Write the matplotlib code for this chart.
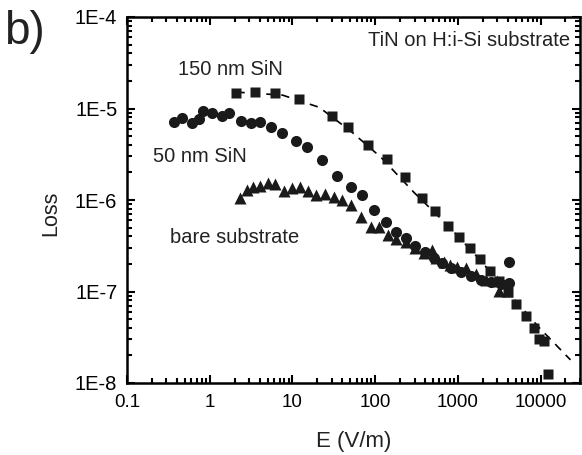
import matplotlib
matplotlib.use("Agg")
import matplotlib.pyplot as plt
from matplotlib.ticker import LogLocator, FixedLocator, FixedFormatter, NullFormatter

plt.rcParams['font.family'] = ['Liberation Sans', 'DejaVu Sans']

# --- data ---
# 150 nm SiN (squares)
sin150_E = [2.1, 3.5, 6.1, 12.1, 30.3, 47, 82, 140, 230, 368, 528, 758, 1028, 1396,
            1841, 2430, 3120, 4000, 5000, 6600, 8240, 9460, 10870, 12480]
sin150_L = [1.47e-5, 1.51e-5, 1.47e-5, 1.26e-5, 8.2e-6, 6.2e-6, 3.96e-6, 2.78e-6,
            1.77e-6, 1.06e-6, 7.5e-7, 5.26e-7, 3.98e-7, 3.0e-7, 2.29e-7, 1.69e-7,
            1.31e-7, 9.9e-8, 7.3e-8, 5.4e-8, 4.0e-8, 3.03e-8, 2.88e-8, 1.26e-8]

# dashed fit through the 150 nm SiN data
fit_E = [2.1, 7.6, 21.1, 51.4, 118, 295, 758, 1790, 4110, 9460, 23000]
fit_L = [1.51e-5, 1.40e-5, 1.03e-5, 5.6e-6, 2.92e-6, 1.21e-6, 5.26e-7, 2.29e-7,
         9.7e-8, 4.1e-8, 1.79e-8]

# 50 nm SiN (circles)
sin50_E = [0.368, 0.46, 0.607, 0.736, 0.824, 1.06, 1.40, 1.69, 2.36, 3.12, 4.0, 5.58,
           7.58, 10.9, 15.2, 23.0, 34.8, 51.4, 69.7, 97, 136, 179, 236, 303, 400, 514,
           641, 824, 1087, 1435, 1893, 2500, 3300, 4110, 4110]
sin50_L = [7.07e-6, 7.82e-6, 6.89e-6, 7.62e-6, 9.33e-6, 8.87e-6, 8.22e-6, 8.87e-6,
           7.25e-6, 6.89e-6, 7.07e-6, 6.23e-6, 5.35e-6, 4.38e-6, 3.76e-6, 2.71e-6,
           1.85e-6, 1.37e-6, 1.12e-6, 7.87e-7, 5.81e-7, 4.52e-7, 3.88e-7, 3.17e-7,
           2.73e-7, 2.34e-7, 2.07e-7, 1.82e-7, 1.64e-7, 1.49e-7, 1.35e-7, 1.28e-7,
           1.22e-7, 2.12e-7, 1.25e-7]

# bare substrate (triangles)
bare_E = [2.30, 2.79, 3.30, 4.00, 5.00, 6.24, 8.01, 10.0, 12.5, 15.6, 19.5, 25.0, 32.1,
          40.0, 51.4, 67.8, 89.5, 112, 143, 179, 236, 303, 389, 486, 543, 678, 801,
          972, 1250, 1650, 2170, 2950, 3120, 3890]
bare_L = [1.06e-6, 1.30e-6, 1.37e-6, 1.41e-6, 1.52e-6, 1.48e-6, 1.24e-6, 1.34e-6,
          1.37e-6, 1.27e-6, 1.12e-6, 1.15e-6, 1.09e-6, 9.9e-7, 8.9e-7, 6.6e-7, 5.13e-7,
          5.13e-7, 4.19e-7, 3.79e-7, 3.51e-7, 3.01e-7, 2.66e-7, 2.87e-7, 2.34e-7,
          2.12e-7, 1.96e-7, 1.87e-7, 1.82e-7, 1.57e-7, 1.35e-7, 1.31e-7, 1.02e-7, 1.02e-7]

x_ticks = [0.1, 1, 10, 100, 1000, 10000]
x_labels = ['0.1', '1', '10', '100', '1000', '10000']
y_ticks = [1e-8, 1e-7, 1e-6, 1e-5, 1e-4]
y_labels = ['1E-8', '1E-7', '1E-6', '1E-5', '1E-4']

W, H = 582, 455
fig = plt.figure(figsize=(W / 100, H / 100), dpi=100)
ax = fig.add_axes([127 / W, 72 / H, 453 / W, 366 / H])

ax.plot(fit_E, fit_L, color='black', lw=1.2, dashes=(5, 4))
ax.plot(sin150_E, sin150_L, 's', color='#1a1a1a', ms=7, mec='none')
ax.plot(sin50_E, sin50_L, 'o', color='#1a1a1a', ms=8, mec='none')
ax.plot(bare_E, bare_L, '^', color='#1a1a1a', ms=8.5, mec='none')

ax.set_xscale('log')
ax.set_yscale('log')
ax.set_xlim(0.1, 30000)
ax.set_ylim(1e-8, 1e-4)

ax.xaxis.set_major_locator(FixedLocator(x_ticks))
ax.xaxis.set_major_formatter(FixedFormatter(x_labels))
ax.yaxis.set_major_locator(FixedLocator(y_ticks))
ax.yaxis.set_major_formatter(FixedFormatter(y_labels))
ax.xaxis.set_minor_locator(LogLocator(base=10, subs=range(2, 10), numticks=20))
ax.yaxis.set_minor_locator(LogLocator(base=10, subs=range(2, 10), numticks=20))
ax.xaxis.set_minor_formatter(NullFormatter())
ax.yaxis.set_minor_formatter(NullFormatter())

for s in ax.spines.values():
    s.set_linewidth(1.8)
ax.tick_params(which='both', direction='in', top=True, right=True, width=1.5)
ax.tick_params(which='major', length=6)
ax.tick_params(which='minor', length=3.5)
ax.tick_params(axis='x', which='major', labelsize=13.5, pad=8)
ax.tick_params(axis='y', which='major', labelsize=14.5, pad=7)

ax.set_xlabel('E (V/m)', fontsize=16, labelpad=14, color='#222222')

# annotations placed in figure pixels (from top-left) -> figure fraction
def put(x, y, s, **kw):
    kw.setdefault('va', 'baseline')
    kw.setdefault('fontsize', 14.5)
    fig.text(x / W, 1 - y / H, s, color='#222222', **kw)

put(51, 213, 'Loss', rotation=90, ha='center', va='center', fontsize=15.5)
put(570, 46, 'TiN on H:i-Si substrate', ha='right')
put(178, 75, '150 nm SiN')
put(153, 162, '50 nm SiN')
put(170, 243, 'bare substrate')
put(4, 32, 'b)', fontsize=33, va='center')

fig.savefig('out.png', dpi=100)
